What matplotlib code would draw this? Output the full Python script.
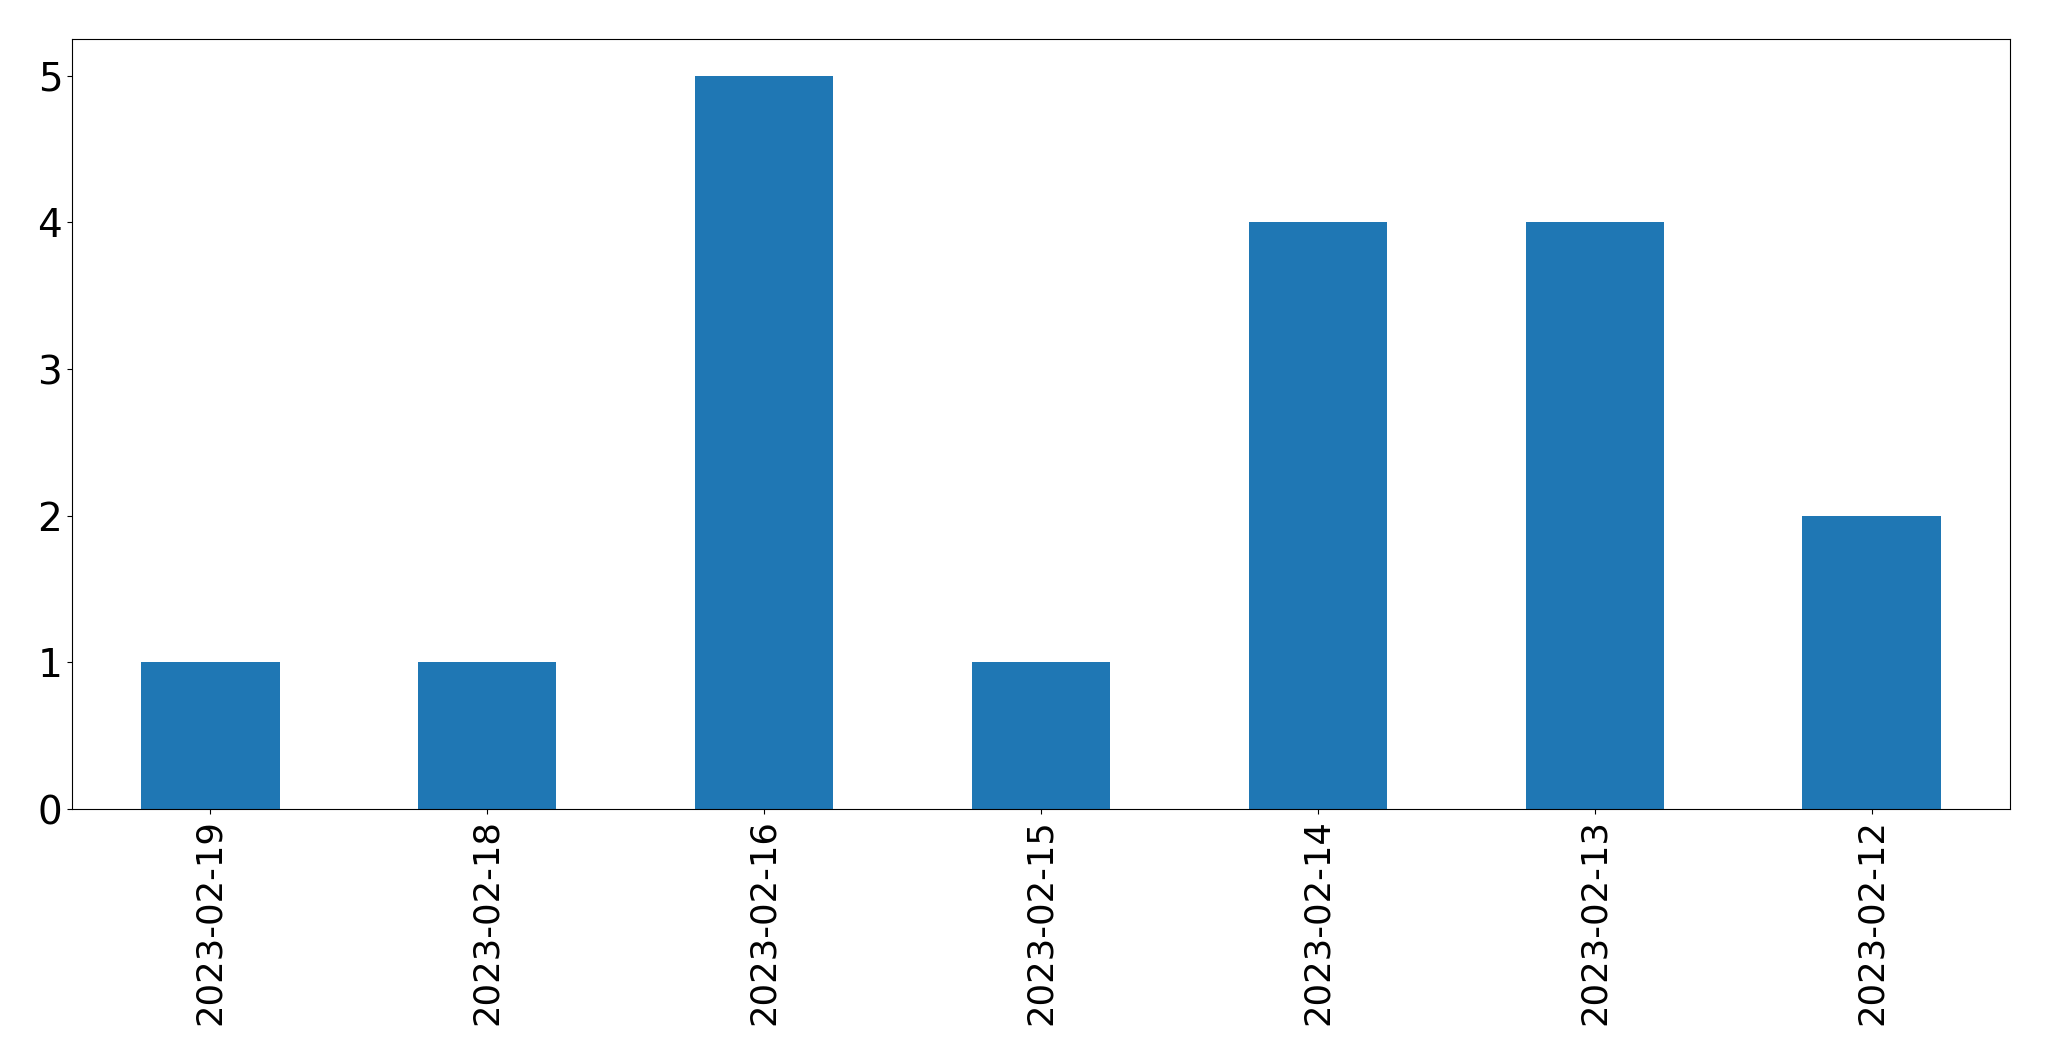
import matplotlib
matplotlib.use("Agg")
import matplotlib.pyplot as plt
import pandas as pd

dates = ["2023-02-19", "2023-02-18", "2023-02-16", "2023-02-15",
         "2023-02-14", "2023-02-13", "2023-02-12"]
counts = [1, 1, 5, 1, 4, 4, 2]

s = pd.Series(counts, index=dates)

fig, ax = plt.subplots(figsize=(20.49, 10.61), dpi=100)
s.plot(kind="bar", ax=ax, color="#1f77b4")
ax.tick_params(axis="x", labelsize=25.5)
ax.tick_params(axis="y", labelsize=28)
fig.subplots_adjust(left=0.0351, right=0.981, top=0.9632, bottom=0.2375)
fig.savefig("out.png", dpi=100)
